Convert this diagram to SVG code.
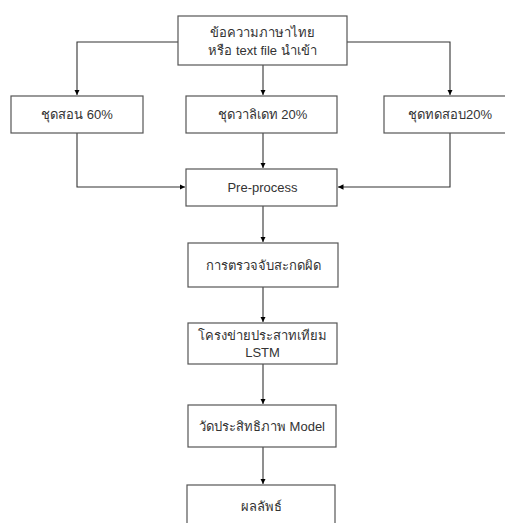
<svg xmlns="http://www.w3.org/2000/svg" width="505" height="523" viewBox="0 0 505 523">
<defs>
<style>
.box{fill:#fff;stroke:#555;stroke-width:1.2}
.t{font-family:"Liberation Sans",Arial,"Noto Sans",sans-serif;font-size:13px;fill:#333;text-anchor:middle;dominant-baseline:central}
.c{fill:none;stroke:#333;stroke-width:1.1}
</style>
<marker id="ah" viewBox="0 0 10 10" refX="10" refY="5" markerWidth="5.5" markerHeight="5.5" markerUnits="userSpaceOnUse" orient="auto">
<path d="M0,0 L10,5 L0,10 z" fill="#000"/>
</marker>
</defs>
<rect width="505" height="523" fill="#fff"/>
<g id="connectors">
<path class="c" d="M178,42 H77 V95" marker-end="url(#ah)"/>
<path class="c" d="M263,65 V95" marker-end="url(#ah)"/>
<path class="c" d="M347,42 H450 V95" marker-end="url(#ah)"/>
<path class="c" d="M77,133 V187 H185" marker-end="url(#ah)"/>
<path class="c" d="M263,133 V168" marker-end="url(#ah)"/>
<path class="c" d="M450,133 V187 H338" marker-end="url(#ah)"/>
<path class="c" d="M263,206 V242" marker-end="url(#ah)"/>
<path class="c" d="M263,287 V322" marker-end="url(#ah)"/>
<path class="c" d="M263,364 V404" marker-end="url(#ah)"/>
<path class="c" d="M263,447 V484" marker-end="url(#ah)"/>
</g>
<g id="n-input">
<rect class="box" x="178" y="16" width="169" height="49"/>
<text class="t" x="262.5" y="32">ข้อความภาษาไทย</text>
<text class="t" x="262.5" y="50">หรือ text file นำเข้า</text>
</g>
<g id="n-train">
<rect class="box" x="11" y="96" width="132" height="37"/>
<text class="t" x="77" y="114.5">ชุดสอน 60%</text>
</g>
<g id="n-valid">
<rect class="box" x="186" y="96" width="151" height="37"/>
<text class="t" x="262.5" y="114.5">ชุดวาลิเดท 20%</text>
</g>
<g id="n-test">
<rect class="box" x="384" y="96" width="132" height="37"/>
<text class="t" x="450" y="114.5">ชุดทดสอบ20%</text>
</g>
<g id="n-preprocess">
<rect class="box" x="186" y="169" width="151" height="37"/>
<text class="t" x="262.5" y="187.5">Pre-process</text>
</g>
<g id="n-spell">
<rect class="box" x="188" y="243" width="150" height="44"/>
<text class="t" x="263" y="265">การตรวจจับสะกดผิด</text>
</g>
<g id="n-lstm">
<rect class="box" x="188" y="323" width="149" height="41"/>
<text class="t" x="262.5" y="335">โครงข่ายประสาทเทียม</text>
<text class="t" x="262.5" y="352">LSTM</text>
</g>
<g id="n-eval">
<rect class="box" x="188" y="405" width="148" height="42"/>
<text class="t" x="262" y="426">วัดประสิทธิภาพ Model</text>
</g>
<g id="n-result">
<rect class="box" x="187" y="485" width="148" height="45"/>
<text class="t" x="261" y="506">ผลลัพธ์</text>
</g>
</svg>
